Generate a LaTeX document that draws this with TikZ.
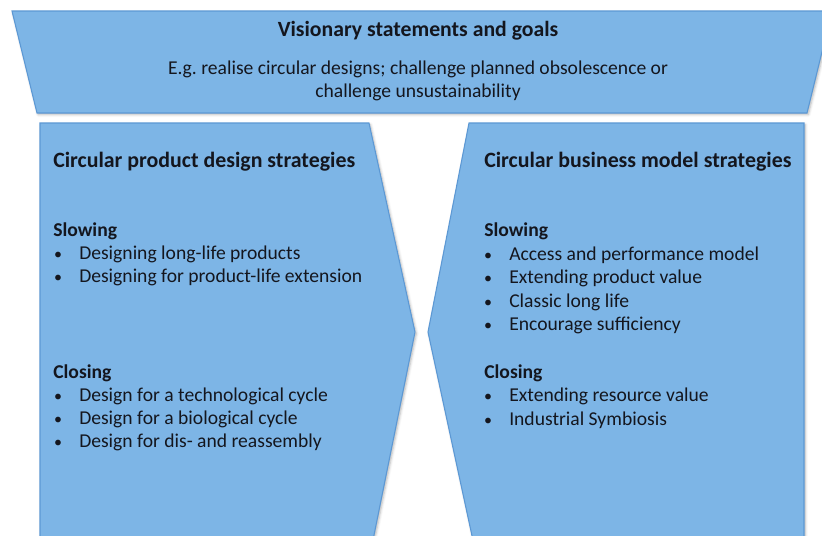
\documentclass[tikz,border=0pt]{standalone}
\usepackage{fontspec}
\setmainfont{Carlito}
\frenchspacing
\usetikzlibrary{shadows.blur}
\definecolor{boxfill}{RGB}{125,181,230}
\definecolor{boxline}{RGB}{92,152,212}
\definecolor{txt}{RGB}{20,22,30}
\begin{document}
\begin{tikzpicture}[x=0.75pt,y=-0.75pt,
  panel/.style={fill=boxfill,draw=boxline,line width=0.8pt,line join=miter,
    blur shadow={shadow xshift=1pt,shadow yshift=-1.2pt,shadow blur steps=4,shadow opacity=30}},
  headtxt/.style={anchor=mid west,inner sep=0pt,font=\fontsize{16.4}{19}\selectfont\bfseries,text=txt},
  subtxt/.style={anchor=mid west,inner sep=0pt,font=\fontsize{14.7}{17}\selectfont\bfseries,text=txt},
  itemtxt/.style={anchor=mid west,inner sep=0pt,font=\fontsize{14.7}{17}\selectfont,text=txt},
  bul/.style={anchor=mid,inner sep=0pt,font=\fontsize{12}{14}\selectfont,text=txt}]
\useasboundingbox (0,0) rectangle (822,536);
\clip (0,0) rectangle (822,536);
% panels
\path[panel] (12,11) -- (832,11) -- (807,113) -- (37,113) -- cycle;
\path[panel] (40,123) -- (369,123) -- (415,332) -- (372,545) -- (40,545) -- cycle;
\path[panel] (469,123) -- (804,123) -- (804,545) -- (474,545) -- (428,332) -- cycle;
% top text
\node[inner sep=0pt,anchor=mid,font=\fontsize{16.3}{19}\selectfont\bfseries,text=txt] (vt) at (418,33) {Visionary statements and goals};
\node[inner sep=0pt,anchor=mid,font=\fontsize{14.7}{17}\selectfont,text=txt] (v1) at (418,71) {E.g. realise circular designs; challenge planned obsolescence or};
\node[inner sep=0pt,anchor=mid,font=\fontsize{14.7}{17}\selectfont,text=txt] (v2) at (418,94) {challenge unsustainability};
% left panel
\node[headtxt] (lh) at (53,164) {Circular product design strategies};
\node[subtxt] (ls) at (53,233) {Slowing};
\node[bul] (lb1) at (58,256) {•};
\node[itemtxt] (li1) at (79,256) {Designing long-life products};
\node[bul] (lb2) at (58,279) {•};
\node[itemtxt] (li2) at (79,279) {Designing for product-life extension};
\node[subtxt] (lc) at (53,375) {Closing};
\node[bul] (lb3) at (58,398) {•};
\node[itemtxt] (li3) at (79,398) {Design for a technological cycle};
\node[bul] (lb4) at (58,421) {•};
\node[itemtxt] (li4) at (79,421) {Design for a biological cycle};
\node[bul] (lb5) at (58,444) {•};
\node[itemtxt] (li5) at (79,444) {Design for dis- and reassembly};
% right panel
\node[headtxt] (rh) at (484,164) {Circular business model strategies};
\node[subtxt] (rs) at (484,233) {Slowing};
\node[bul] (rb1) at (488,257) {•};
\node[itemtxt] (ri1) at (509,257) {Access and performance model};
\node[bul] (rb2) at (488,280) {•};
\node[itemtxt] (ri2) at (509,280) {Extending product value};
\node[bul] (rb3) at (488,304) {•};
\node[itemtxt] (ri3) at (509,304) {Classic long life};
\node[bul] (rb4) at (488,327) {•};
\node[itemtxt] (ri4) at (509,327) {Encourage sufficiency};
\node[subtxt] (rc) at (484,375) {Closing};
\node[bul] (rb5) at (488,398) {•};
\node[itemtxt] (ri5) at (509,398) {Extending resource value};
\node[bul] (rb6) at (488,422) {•};
\node[itemtxt] (ri6) at (509,422) {Industrial Symbiosis};
\end{tikzpicture}
\end{document}
